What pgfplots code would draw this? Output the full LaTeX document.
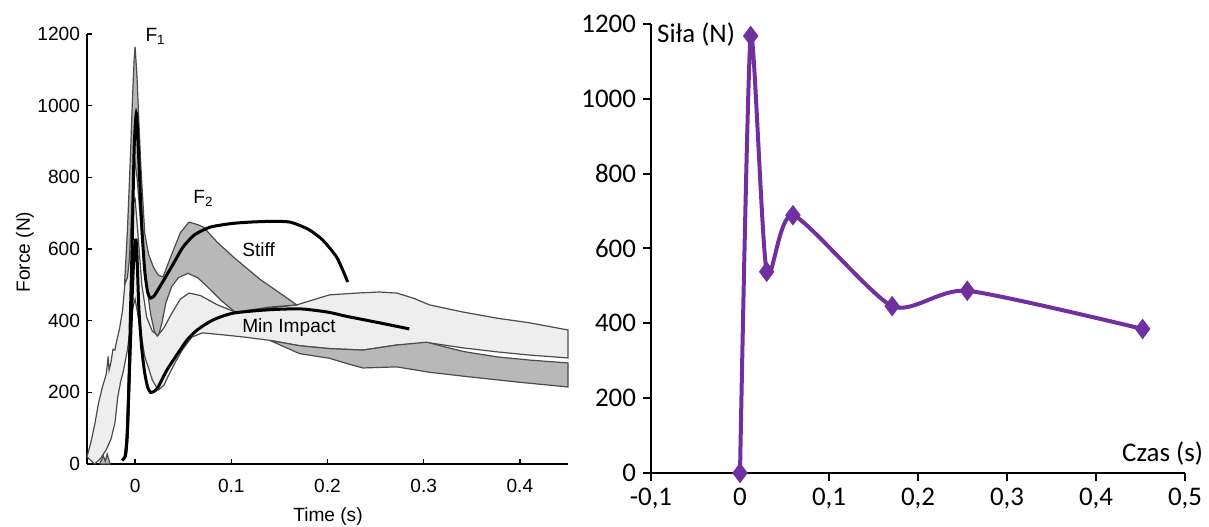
\documentclass[border=0pt]{standalone}
\usepackage{fontspec}
\setmainfont{Liberation Sans}
\newfontfamily\calibri{Carlito}
\usepackage{pgfplots}
\pgfplotsset{compat=1.18}
\definecolor{darkband}{RGB}{184,184,184}
\definecolor{lightband}{RGB}{238,238,238}
\definecolor{edge}{RGB}{75,75,75}
\definecolor{excelpurple}{RGB}{112,48,160}

\begin{document}
\begin{tikzpicture}
\useasboundingbox (0,0) rectangle (604.5bp,263.5bp);

% left panel: force traces with SD bands
\begin{axis}[
  at={(43.5bp,31.5bp)}, anchor=south west,
  scale only axis, width=240.5bp, height=215bp,
  xmin=-0.05, xmax=0.45, ymin=0, ymax=1200,
  axis lines=left, axis line style={-, line width=0.75bp},
  clip=false,
  xtick={0,0.1,0.2,0.3,0.4}, xticklabels={0,0.1,0.2,0.3,0.4},
  ytick={0,200,...,1200},
  tick align=inside, major tick length=2.5bp,
  tick style={black, line width=0.75bp},
  /pgf/number format/1000 sep={},
  /pgf/number format/assume math mode=true,
  tick label style={font=\fontsize{9.6}{11}\selectfont},
  xticklabel style={yshift=-4bp},
  xlabel={Time (s)}, ylabel={Force (N)},
  label style={font=\fontsize{9.6}{11}\selectfont},
  xlabel style={at={(axis description cs:0.501,-0.123)}, anchor=center},
  ylabel style={at={(axis description cs:-0.129,0.493)}, anchor=center},
]
% Min Impact band
\addplot[fill=lightband, draw=edge, line width=0.6bp] coordinates {
  (-0.050,20)(-0.046,60)(-0.042,110)(-0.038,170)(-0.034,215)(-0.030,250)
  (-0.028,300)(-0.027,262)(-0.025,285)(-0.023,320)(-0.021,318)(-0.019,345)
  (-0.016,380)(-0.013,430)(-0.010,520)(-0.006,640)(-0.002,730)(0,740)
  (0.003,640)(0.007,500)(0.012,410)(0.018,370)(0.024,360)(0.030,380)
  (0.038,420)(0.047,460)(0.056,477)(0.068,470)(0.085,445)(0.104,424)
  (0.130,432)(0.168,444)(0.202,472)(0.230,477)(0.254,480)(0.272,477)
  (0.290,462)(0.306,444)(0.341,424)(0.376,407)(0.410,394)(0.450,374)
  (0.450,296)(0.410,304)(0.376,313)(0.341,324)(0.306,338)(0.272,332)
  (0.237,318)(0.202,322)(0.171,330)(0.140,345)(0.114,354)(0.093,360)
  (0.070,366)(0.059,354)(0.049,318)(0.042,285)(0.034,243)(0.030,220)
  (0.024,206)(0.018,234)(0.010,300)(0.004,400)(0,460)(-0.002,440)
  (-0.005,380)(-0.008,318)(-0.012,262)(-0.015,230)(-0.018,187)(-0.021,114)
  (-0.025,70)(-0.030,40)(-0.036,15)(-0.042,0)(-0.050,20)
};
% Stiff band, early part
\addplot[fill=darkband, draw=edge, line width=0.6bp] coordinates {
  (-0.011,500)(-0.008,650)(-0.005,850)(-0.003,1000)(-0.001,1130)(0,1164)
  (0.002,1080)(0.004,950)(0.006,830)(0.008,737)(0.010,645)(0.014,585)
  (0.019,550)(0.024,527)(0.029,522)(0.037,578)(0.047,645)(0.056,675)
  (0.065,668)(0.071,661)(0.085,620)(0.102,578)(0.130,515)(0.150,478)
  (0.168,444)(0.140,438)(0.120,430)(0.104,424)(0.090,455)(0.075,495)
  (0.065,520)(0.055,532)(0.045,520)(0.038,495)(0.032,450)(0.028,395)
  (0.025,365)(0.023,357)(0.020,370)(0.016,420)(0.012,500)(0.008,600)
  (0.005,700)(0.002,800)(0,840)(-0.002,800)(-0.004,680)(-0.006,570)
  (-0.008,520)(-0.011,500)
};
% Stiff band, late part
\addplot[fill=darkband, draw=edge, line width=0.6bp] coordinates {
  (0.140,345)(0.171,330)(0.202,322)(0.237,318)(0.272,332)(0.303,340)
  (0.341,314)(0.376,299)(0.410,290)(0.450,282)
  (0.450,215)(0.400,228)(0.348,243)(0.306,256)(0.272,271)(0.237,268)
  (0.223,278)(0.202,295)(0.171,308)(0.140,345)
};
% Stiff band, start
\addplot[fill=darkband, draw=edge, line width=0.6bp] coordinates {
  (-0.037,0)(-0.033,22)(-0.031,8)(-0.029,28)(-0.026,0)(-0.037,0)
};
% Stiff mean
\addplot[black, line width=1.5bp, smooth, tension=0.4] coordinates {
  (-0.0135,10)(-0.0105,20)(-0.009,50)(-0.008,95)(-0.006,260)(-0.005,400)
  (-0.003,620)(-0.001,880)(0.001,975)(0.002,960)(0.004,840)(0.007,660)
  (0.010,540)(0.013,480)(0.016,463)(0.020,470)(0.028,505)(0.040,560)
  (0.050,606)(0.062,640)(0.078,661)(0.100,671)(0.119,675)(0.140,677)
  (0.161,675)(0.180,655)(0.195,625)(0.210,575)(0.221,508)
};
% Min Impact mean
\addplot[black, line width=1.5bp, smooth, tension=0.4] coordinates {
  (-0.010,20)(-0.008,90)(-0.006,250)(-0.004,400)(-0.002,540)(0,615)
  (0.001,625)(0.002,580)(0.004,430)(0.007,320)(0.010,254)(0.013,215)
  (0.016,200)(0.020,203)(0.024,215)(0.033,262)(0.042,299)(0.054,346)
  (0.065,375)(0.081,402)(0.102,421)(0.137,430)(0.171,433)(0.200,424)
  (0.220,412)(0.254,394)(0.285,377)
};
\node[anchor=base west, inner sep=0, font=\fontsize{9.6}{11}\selectfont]
  at (axis cs:0.0104,1178) {F\textsubscript{1}};
\node[anchor=base west, inner sep=0, font=\fontsize{9.6}{11}\selectfont]
  at (axis cs:0.0602,728) {F\textsubscript{2}};
\node[anchor=base west, inner sep=0, font=\fontsize{9.6}{11}\selectfont]
  at (axis cs:0.111,580) {Stiff};
\node[anchor=base west, inner sep=0, font=\fontsize{9.6}{11}\selectfont]
  at (axis cs:0.111,368) {Min Impact};
\end{axis}

% right panel: digitised points
\begin{axis}[
  at={(325.5bp,27bp)}, anchor=south west,
  scale only axis, width=267bp, height=224.5bp,
  xmin=-0.1, xmax=0.5, ymin=0, ymax=1200,
  axis lines=left, axis line style={-, line width=1bp},
  clip=false,
  xtick={-0.1,0,0.1,0.2,0.3,0.4,0.5},
  xticklabels={{-0,1},{0},{0,1},{0,2},{0,3},{0,4},{0,5}},
  ytick={0,200,...,1200},
  tick align=outside, major tick length=4bp,
  tick style={black, line width=1bp},
  /pgf/number format/1000 sep={},
  /pgf/number format/assume math mode=true,
  tick label style={font=\calibri\fontsize{13.5}{16}\selectfont},
]
\addplot[excelpurple, line width=2bp, smooth, tension=0.4,
  mark=diamond*, mark size=3.5bp, mark options={fill=excelpurple}] coordinates {
  (0,0)(0.012,1168)(0.030,538)(0.0595,689)(0.171,446)(0.2554,487)(0.4524,385)
};
\node[anchor=base west, inner sep=0, font=\calibri\fontsize{13.5}{16}\selectfont]
  at (axis cs:-0.0935,1150) {Siła (N)};
\node[anchor=base west, inner sep=0, font=\calibri\fontsize{13.5}{16}\selectfont]
  at (axis cs:0.429,32) {Czas (s)};
\end{axis}
\end{tikzpicture}
\end{document}
